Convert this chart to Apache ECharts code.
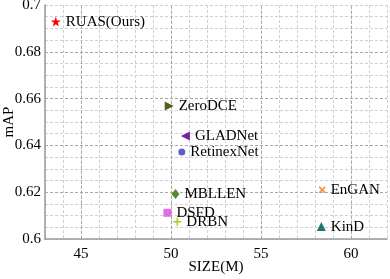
<!DOCTYPE html>
<html><head><meta charset="utf-8">
<script src="https://cdn.jsdelivr.net/npm/echarts@6/dist/echarts.min.js"></script>
<style>html,body{margin:0;padding:0;background:#fff}#c{width:390px;height:279px}</style>
</head><body><div id="c"></div>
<script>
const names = ['RUAS(Ours)','ZeroDCE','GLADNet','RetinexNet','MBLLEN','DSFD','DRBN','EnGAN','KinD'];
const sizes = [43.6, 49.9, 50.8, 50.6, 50.25, 49.8, 50.35, 58.4, 58.35];
const maps  = [0.6929, 0.6568, 0.644, 0.6372, 0.6192, 0.6112, 0.6074, 0.621, 0.6053];
const xTicks = [45, 50, 55, 60];
const yTicks = [0.6, 0.62, 0.64, 0.66, 0.68, 0.7];

const starPath = 'path://M50,0 L61.8,35.1 L98.9,35.1 L69,57.3 L79.4,92.7 L50,71 L20.6,92.7 L31,57.3 L1.1,35.1 L38.2,35.1 Z';
const plusPath = 'path://M40,0 L60,0 L60,40 L100,40 L100,60 L60,60 L60,100 L40,100 L40,60 L0,60 L0,40 L40,40 Z';
const xPath = 'path://M15,0 L50,35 L85,0 L100,15 L65,50 L100,85 L85,100 L50,65 L15,100 L0,85 L35,50 L0,15 Z';
const symbols = [starPath, 'triangle', 'triangle', 'circle', 'diamond', 'rect', plusPath, xPath, 'triangle'];
const rotates = [0, -90, 90, 0, 0, 0, 0, 0, 0];
const symSizes = [10, 9, 9, 7, [8,10], 8, 8, 7, 9];
const colors = ['#ff0000','#5b5b1e','#7b1fa2','#5b5fc7','#5a8a2c','#e36de0','#a2d12e','#f28c3c','#1c7a6c'];

const font = 'Liberation Serif';
const series = names.map((n, i) => ({
  type: 'scatter', name: n,
  data: [[sizes[i], maps[i]]],
  symbol: symbols[i], symbolRotate: rotates[i], symbolSize: symSizes[i],
  itemStyle: {color: colors[i], opacity: 1},
  label: {show: true, position: 'right', distance: 5, formatter: n,
          fontFamily: font, fontSize: 15, color: '#000'},
  labelLayout: {hideOverlap: false},
  z: 5
}));
series.push({
  type: 'scatter', data: [], silent: true,
  markLine: {
    symbol: 'none', silent: true, label: {show: false},
    lineStyle: {color: '#a8a8a8', type: [3, 2], width: 1},
    data: xTicks.map(v => ({xAxis: v})).concat(yTicks.slice(1, -1).map(v => ({yAxis: v})))
  }
});

const chart = echarts.init(document.getElementById('c'));
chart.setOption({
  animation: false,
  grid: {left: 45, right: 3, top: 5, bottom: 40, containLabel: false, outerBoundsMode: 'none'},
  xAxis: {
    type: 'value', min: 43, max: 62, interval: 1,
    name: 'SIZE(M)', nameLocation: 'middle', nameGap: 21, nameMoveOverlap: false,
    nameTextStyle: {fontFamily: font, fontSize: 15, color: '#000'},
    axisLine: {show: true, lineStyle: {color: '#999', width: 1.5}},
    axisTick: {show: false},
    axisLabel: {fontFamily: font, fontSize: 15, color: '#000', margin: 8,
      formatter: v => xTicks.indexOf(Math.round(v)) >= 0 && Math.abs(v - Math.round(v)) < 1e-6 ? String(Math.round(v)) : ''},
    splitLine: {show: true, lineStyle: {color: '#d0d0d0', type: [3, 2], width: 1}}
  },
  yAxis: {
    type: 'value', min: 0.6, max: 0.7, interval: 0.005,
    name: 'mAP', nameLocation: 'middle', nameGap: 28, nameMoveOverlap: false,
    nameTextStyle: {fontFamily: font, fontSize: 15, color: '#000'},
    axisLine: {show: true, lineStyle: {color: '#999', width: 1.5}},
    axisTick: {show: false},
    axisLabel: {fontFamily: font, fontSize: 15, color: '#000', margin: 4,
      formatter: v => {
        const r = Math.round(v * 100) / 100;
        return (Math.abs(v - r) < 1e-6 && yTicks.some(t => Math.abs(t - r) < 1e-6)) ? String(r) : '';
      }},
    splitLine: {show: true, lineStyle: {color: '#d0d0d0', type: [3, 2], width: 1}}
  },
  series: series
});
</script></body></html>
